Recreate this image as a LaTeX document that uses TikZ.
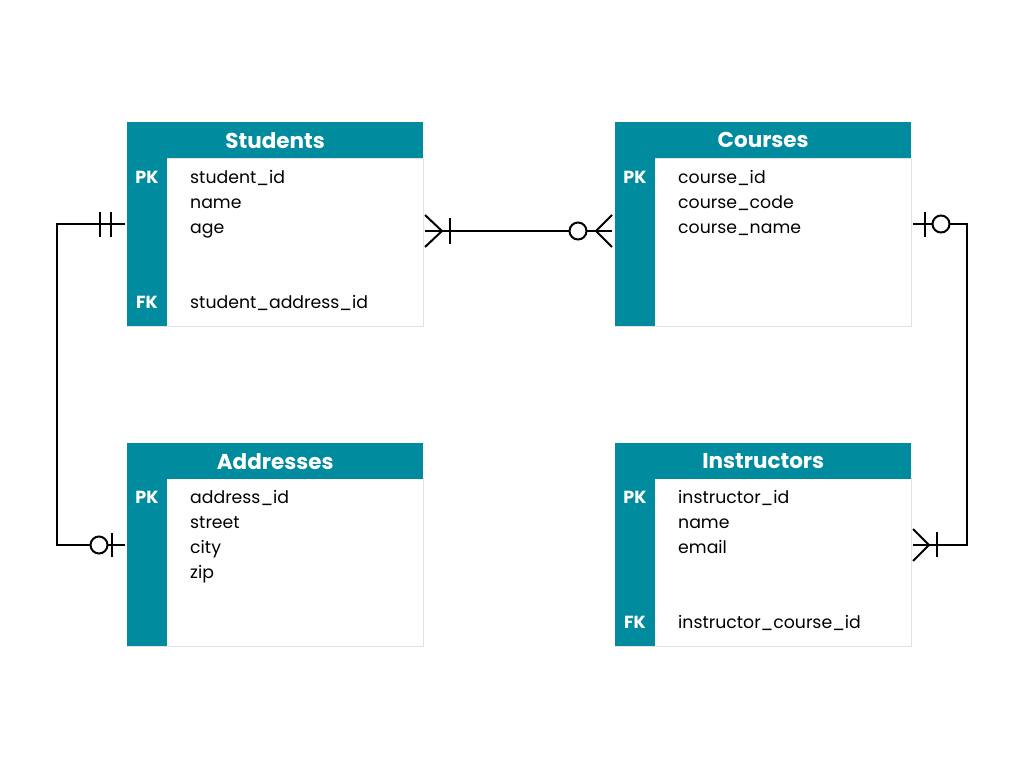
\documentclass[tikz,border=0pt]{standalone}
\usepackage{fontspec}
\setmainfont{Poppins}
\definecolor{tealhd}{RGB}{0,139,158}
\definecolor{edgegray}{RGB}{226,226,226}
\begin{document}
\begin{tikzpicture}[x=1pt,y=-1pt,
  hdr/.style={fill=tealhd, text=white, font=\fontsize{21.5}{24}\selectfont\bfseries,
    minimum width=296pt, minimum height=36pt, inner sep=0pt, anchor=north west},
  bodybox/.style={draw=edgegray, line width=1pt, fill=white,
    minimum width=296pt, minimum height=168pt, inner sep=0pt, anchor=north west},
  keycol/.style={fill=tealhd, minimum width=40pt, minimum height=168pt, inner sep=0pt, anchor=north west},
  keylbl/.style={text=white, font=\fontsize{17.5}{20}\selectfont\bfseries, anchor=base, inner sep=0pt},
  fld/.style={font=\fontsize{17.3}{20}\selectfont, anchor=base west, inner sep=0pt},
  rel/.style={line width=2pt, black},
  ring/.style={line width=2pt, black, fill=white},
]
\useasboundingbox (0,0) rectangle (1024,768);

% ---------- Students ----------
\node[bodybox] (stub) at (127,158) {};
\node[keycol] (stuk) at (127,158) {};
\node[hdr] (stuh) at (127,122) {Students};
\node[keylbl] (stupk) at (147,183) {PK};
\node[keylbl] (stufk) at (147,308) {FK};
\node[fld] (stuf1) at (190,183) {student\_id};
\node[fld] (stuf2) at (190,208) {name};
\node[fld] (stuf3) at (190,233) {age};
\node[fld] (stuf4) at (190,308) {student\_address\_id};

% ---------- Courses ----------
\node[bodybox] (coub) at (615,158) {};
\node[keycol] (couk) at (615,158) {};
\node[hdr] (couh) at (615,122) {Courses};
\node[keylbl] (coupk) at (635,183) {PK};
\node[fld] (couf1) at (678,183) {course\_id};
\node[fld] (couf2) at (678,208) {course\_code};
\node[fld] (couf3) at (678,233) {course\_name};

% ---------- Addresses ----------
\node[bodybox] (addb) at (127,478) {};
\node[keycol] (addk) at (127,478) {};
\node[hdr] (addh) at (127,443) {Addresses};
\node[keylbl] (addpk) at (147,503) {PK};
\node[fld] (addf1) at (190,503) {address\_id};
\node[fld] (addf2) at (190,528) {street};
\node[fld] (addf3) at (190,553) {city};
\node[fld] (addf4) at (190,578) {zip};

% ---------- Instructors ----------
\node[bodybox] (insb) at (615,478) {};
\node[keycol] (insk) at (615,478) {};
\node[hdr] (insh) at (615,443) {Instructors};
\node[keylbl] (inspk) at (635,503) {PK};
\node[keylbl] (insfk) at (635,628) {FK};
\node[fld] (insf1) at (678,503) {instructor\_id};
\node[fld] (insf2) at (678,528) {name};
\node[fld] (insf3) at (678,553) {email};
\node[fld] (insf4) at (678,628) {instructor\_course\_id};

% ---------- connector end points ----------
\coordinate (sL) at (125,224);
\coordinate (aL) at (125,545);
\coordinate (bendL) at (57,224);
\coordinate (sR) at (425,231);
\coordinate (cL) at (612,231);
\coordinate (cR) at (913,224);
\coordinate (iR) at (913,545);
\coordinate (bendR) at (967,224);

% Students -- Addresses
\draw[rel] (sL) -- (bendL) |- (aL);
\draw[rel] (100,212) -- (100,237);
\draw[rel] (111,212) -- (111,237);
\draw[rel] (112,533) -- (112,557);
\draw[ring] (99,545) circle (8.5);

% Students -- Courses
\draw[rel] (sR) -- (cL);
\draw[rel] (425,215) -- (442,231) -- (425,247);
\draw[rel] (450,218) -- (450,244);
\draw[rel] (612,215) -- (596,231) -- (612,247);
\draw[ring] (578,231) circle (8.5);

% Courses -- Instructors
\draw[rel] (cR) -- (bendR) |- (iR);
\draw[rel] (925,212) -- (925,237);
\draw[ring] (941,224) circle (8.5);
\draw[rel] (913,529) -- (929,545) -- (913,561);
\draw[rel] (937,532) -- (937,557);
\end{tikzpicture}
\end{document}
